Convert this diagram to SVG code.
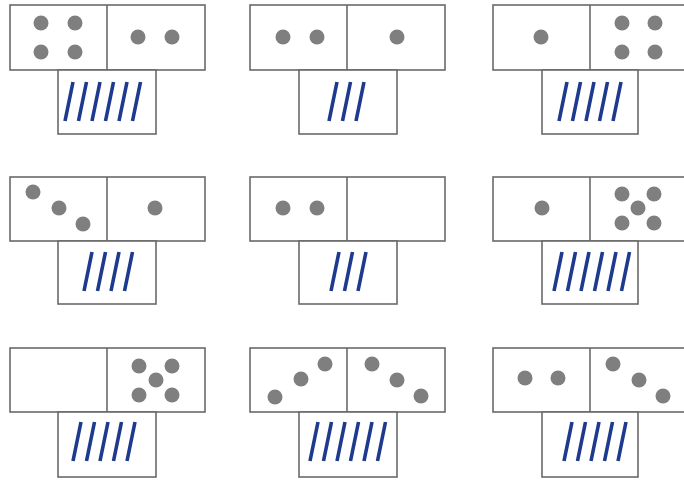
<svg xmlns="http://www.w3.org/2000/svg" width="684" height="482" viewBox="0 0 684 482">
<style>
.box{fill:#ffffff;stroke:#6a6a6a;stroke-width:1.6}
.div{stroke:#6a6a6a;stroke-width:1.6}
.dot{fill:#7f7f7f}
.sl{fill:none;stroke:#1e3a8e;stroke-width:3.6}
</style>
<rect width="684" height="482" fill="#ffffff"/>
<g id="d11">
<rect class="box" x="10" y="5" width="195" height="65"/><line class="div" x1="107" y1="5" x2="107" y2="70"/>
<rect class="box" x="58" y="70" width="98" height="64"/>
<circle class="dot" cx="41" cy="23" r="7.5"/><circle class="dot" cx="75" cy="23" r="7.5"/><circle class="dot" cx="41" cy="52" r="7.5"/><circle class="dot" cx="75" cy="52" r="7.5"/>
<circle class="dot" cx="138" cy="37" r="7.5"/><circle class="dot" cx="172" cy="37" r="7.5"/>
<path class="sl" d="M65 121l8-39M78.5 121l8-39M92 121l8-39M105.5 121l8-39M119 121l8-39M132.5 121l8-39"/>
</g>
<g id="d12">
<rect class="box" x="250" y="5" width="195" height="65"/><line class="div" x1="347" y1="5" x2="347" y2="70"/>
<rect class="box" x="299" y="70" width="98" height="64"/>
<circle class="dot" cx="283" cy="37" r="7.5"/><circle class="dot" cx="317" cy="37" r="7.5"/>
<circle class="dot" cx="397" cy="37" r="7.5"/>
<path class="sl" d="M329 121l8-39M342.5 121l8-39M356 121l8-39"/>
</g>
<g id="d13">
<rect class="box" x="493" y="5" width="195" height="65"/><line class="div" x1="590" y1="5" x2="590" y2="70"/>
<rect class="box" x="542" y="70" width="96" height="64"/>
<circle class="dot" cx="541" cy="37" r="7.5"/>
<circle class="dot" cx="622" cy="23" r="7.5"/><circle class="dot" cx="655" cy="23" r="7.5"/><circle class="dot" cx="622" cy="52" r="7.5"/><circle class="dot" cx="655" cy="52" r="7.5"/>
<path class="sl" d="M559 121l8-39M572.5 121l8-39M586 121l8-39M599.5 121l8-39M613 121l8-39"/>
</g>
<g id="d21">
<rect class="box" x="10" y="177" width="195" height="64"/><line class="div" x1="107" y1="177" x2="107" y2="241"/>
<rect class="box" x="58" y="241" width="98" height="63"/>
<circle class="dot" cx="33" cy="192" r="7.5"/><circle class="dot" cx="59" cy="208" r="7.5"/><circle class="dot" cx="83" cy="224" r="7.5"/>
<circle class="dot" cx="155" cy="208" r="7.5"/>
<path class="sl" d="M84 291l8-39M97.5 291l8-39M111 291l8-39M124.5 291l8-39"/>
</g>
<g id="d22">
<rect class="box" x="250" y="177" width="195" height="64"/><line class="div" x1="347" y1="177" x2="347" y2="241"/>
<rect class="box" x="299" y="241" width="98" height="63"/>
<circle class="dot" cx="283" cy="208" r="7.5"/><circle class="dot" cx="317" cy="208" r="7.5"/>
<path class="sl" d="M331 291l8-39M344.5 291l8-39M358 291l8-39"/>
</g>
<g id="d23">
<rect class="box" x="493" y="177" width="195" height="64"/><line class="div" x1="590" y1="177" x2="590" y2="241"/>
<rect class="box" x="542" y="241" width="96" height="63"/>
<circle class="dot" cx="542" cy="208" r="7.5"/>
<circle class="dot" cx="622" cy="194" r="7.5"/><circle class="dot" cx="654" cy="194" r="7.5"/><circle class="dot" cx="638" cy="208" r="7.5"/><circle class="dot" cx="622" cy="223" r="7.5"/><circle class="dot" cx="654" cy="223" r="7.5"/>
<path class="sl" d="M554 291l8-39M567.5 291l8-39M581 291l8-39M594.5 291l8-39M608 291l8-39M621.5 291l8-39"/>
</g>
<g id="d31">
<rect class="box" x="10" y="348" width="195" height="64"/><line class="div" x1="107" y1="348" x2="107" y2="412"/>
<rect class="box" x="58" y="412" width="98" height="65"/>
<circle class="dot" cx="139" cy="366" r="7.5"/><circle class="dot" cx="172" cy="366" r="7.5"/><circle class="dot" cx="156" cy="380" r="7.5"/><circle class="dot" cx="139" cy="395" r="7.5"/><circle class="dot" cx="172" cy="395" r="7.5"/>
<path class="sl" d="M73 461l8-39M86.5 461l8-39M100 461l8-39M113.5 461l8-39M127 461l8-39"/>
</g>
<g id="d32">
<rect class="box" x="250" y="348" width="195" height="64"/><line class="div" x1="347" y1="348" x2="347" y2="412"/>
<rect class="box" x="299" y="412" width="98" height="65"/>
<circle class="dot" cx="275" cy="397" r="7.5"/><circle class="dot" cx="301" cy="379" r="7.5"/><circle class="dot" cx="325" cy="364" r="7.5"/>
<circle class="dot" cx="372" cy="364" r="7.5"/><circle class="dot" cx="397" cy="380" r="7.5"/><circle class="dot" cx="421" cy="396" r="7.5"/>
<path class="sl" d="M310 461l8-39M323.5 461l8-39M337 461l8-39M350.5 461l8-39M364 461l8-39M377.5 461l8-39"/>
</g>
<g id="d33">
<rect class="box" x="493" y="348" width="195" height="64"/><line class="div" x1="590" y1="348" x2="590" y2="412"/>
<rect class="box" x="542" y="412" width="96" height="65"/>
<circle class="dot" cx="525" cy="378" r="7.5"/><circle class="dot" cx="558" cy="378" r="7.5"/>
<circle class="dot" cx="613" cy="364" r="7.5"/><circle class="dot" cx="639" cy="380" r="7.5"/><circle class="dot" cx="663" cy="396" r="7.5"/>
<path class="sl" d="M564 461l8-39M577.5 461l8-39M591 461l8-39M604.5 461l8-39M618 461l8-39"/>
</g>
</svg>
